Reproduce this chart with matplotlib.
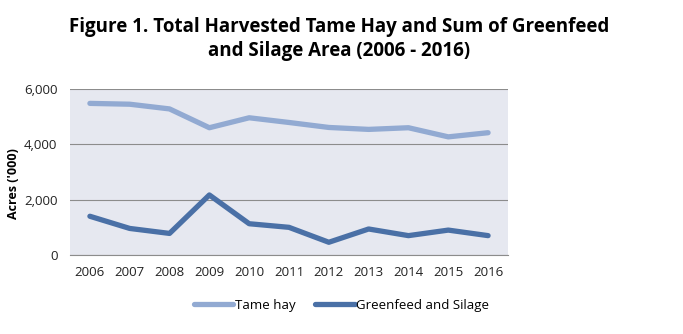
import matplotlib
matplotlib.use("Agg")
import matplotlib.pyplot as plt

years = ["2006", "2007", "2008", "2009", "2010", "2011", "2012", "2013", "2014", "2015", "2016"]
tame_hay = [5480, 5450, 5280, 4600, 4960, 4790, 4610, 4540, 4600, 4270, 4420]
greenfeed_silage = [1400, 960, 780, 2170, 1130, 1000, 460, 940, 700, 900, 700]

plt.rcParams['font.family'] = ['Open Sans', 'DejaVu Sans']

fig = plt.figure(figsize=(6.83, 3.34), dpi=100)
ax = fig.add_axes([70 / 683, 1 - 255 / 334, 438 / 683, 166 / 334])
ax.set_facecolor('#e6e8f0')

x = list(range(len(years)))
ax.plot(x, tame_hay, color='#92aad2', lw=3.8, label='Tame hay', solid_capstyle='round')
ax.plot(x, greenfeed_silage, color='#4a70a6', lw=3.8, label='Greenfeed and Silage', solid_capstyle='round')

ax.set_xlim(-0.5, len(years) - 0.5)
ax.set_ylim(0, 6000)
ax.set_yticks([0, 2000, 4000, 6000])
ax.set_yticklabels(['0', '2,000', '4,000', '6,000'])
ax.set_xticks(x)
ax.set_xticklabels(years)
ax.yaxis.grid(True, color='#8c8c8c', lw=0.8)
ax.set_axisbelow(True)
for s in ['top', 'right', 'left']:
    ax.spines[s].set_visible(False)
ax.spines['bottom'].set_color('#8c8c8c')
ax.tick_params(axis='both', length=0, labelsize=9.5, colors='#222222', pad=8)
ax.tick_params(axis='y', pad=9)
ax.set_ylabel("Acres ('000)", fontsize=9, fontweight='bold')
ax.yaxis.set_label_coords(-0.115, 0.43)

fig.suptitle("Figure 1. Total Harvested Tame Hay and Sum of Greenfeed\nand Silage Area (2006 - 2016)",
             x=0.497, y=0.95, fontsize=13.5, fontweight='bold', linespacing=1.3)

fig.legend(loc='lower center', bbox_to_anchor=(0.5, 0.03), ncol=2, frameon=False,
           fontsize=9.5, handlelength=3, handletextpad=0.1, columnspacing=1.5)

fig.savefig('out.png', dpi=100)
